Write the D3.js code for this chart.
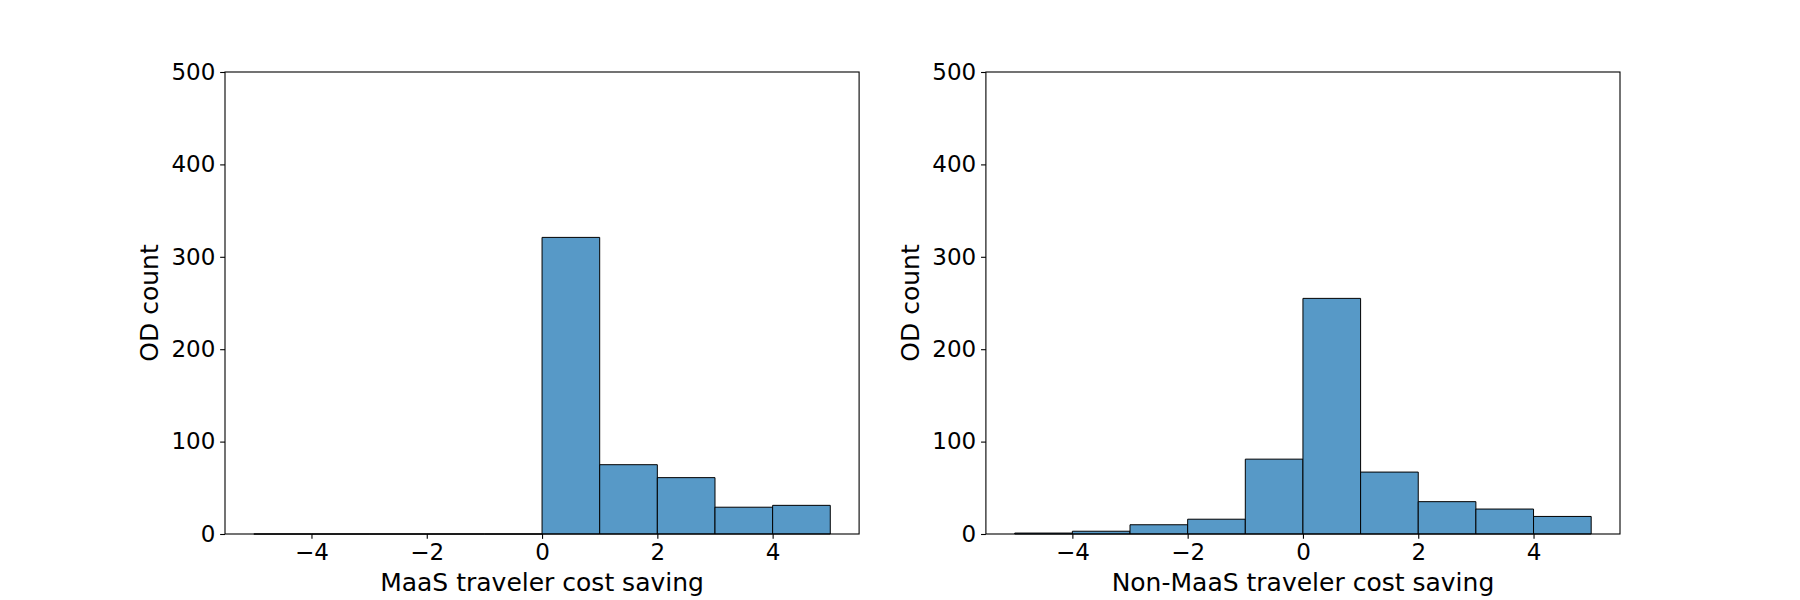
<!DOCTYPE html>
<html>
<head>
<meta charset="utf-8">
<script src="https://cdn.jsdelivr.net/npm/d3@7"></script>
<style>
  body { margin: 0; background: #fff; }
  text { font-family: "DejaVu Sans", sans-serif; fill: #000; }
</style>
</head>
<body>
<svg id="chart" width="1800" height="600"></svg>
<script>
// histogram bins (cost saving), width 1
var binEdges = [-5, -4, -3, -2, -1, 0, 1, 2, 3, 4, 5];
var maasCounts = [0, 0, 0, 0, 0, 321, 75, 61, 29, 31];
var nonMaasCounts = [1, 3, 10, 16, 81, 255, 67, 35, 27, 19];
var xTicks = [-4, -2, 0, 2, 4];
var yTicks = [0, 100, 200, 300, 400, 500];
var xLabels = ["MaaS traveler cost saving", "Non-MaaS traveler cost saving"];

var svg = d3.select("#chart"),
	plotTop = 72, plotBottom = 534,
	panelW = 634.1,
	lefts = [225, 985.9],
	tick = 4.86;

var y = d3.scaleLinear().domain([0, 500]).range([plotBottom, plotTop]);

var fmt = function(d) { return d < 0 ? "\u2212" + Math.abs(d) : String(d); };

var drawPanel = function(left, counts, label) {
	var x = d3.scaleLinear().domain([-5.5, 5.5]).range([left, left + panelW]);
	var g = svg.append("g");

	var bins = counts.map(function(c, i) {
		return { x0: binEdges[i], x1: binEdges[i + 1], count: c };
	});

	// paths so that empty bins still show their edge line
	g.selectAll("path.bar")
		.data(bins)
		.enter()
		.append("path")
		.attr("class", "bar")
		.attr("d", function(d) {
			return "M" + x(d.x0) + "," + y(0) + "V" + y(d.count) +
				"H" + x(d.x1) + "V" + y(0) + "Z";
		})
		.attr("fill", "#5799c7")
		.attr("stroke", "#000")
		.attr("stroke-width", 1);

	var xAxis = g.append("g")
		.attr("transform", "translate(0," + plotBottom + ")")
		.call(d3.axisBottom(x).tickValues(xTicks).tickFormat(fmt)
			.tickSize(tick).tickPadding(tick).tickSizeOuter(0));
	var yAxis = g.append("g")
		.attr("transform", "translate(" + left + ",0)")
		.call(d3.axisLeft(y).tickValues(yTicks).tickFormat(fmt)
			.tickSize(tick).tickPadding(tick).tickSizeOuter(0));

	[xAxis, yAxis].forEach(function(a) {
		a.select(".domain").remove();
		a.selectAll("line").attr("stroke", "#000").attr("stroke-width", 1.1);
		a.selectAll("text")
			.attr("font-size", 23)
			.attr("font-family", "DejaVu Sans, sans-serif")
			.attr("fill", "#000");
	});

	// frame
	g.append("rect")
		.attr("x", left)
		.attr("y", plotTop)
		.attr("width", panelW)
		.attr("height", plotBottom - plotTop)
		.attr("fill", "none")
		.attr("stroke", "#000")
		.attr("stroke-width", 1.1);

	g.append("text")
		.attr("x", left + panelW / 2)
		.attr("y", 591)
		.attr("text-anchor", "middle")
		.attr("font-size", 25)
		.text(label);

	g.append("text")
		.attr("transform", "translate(" + (left - 76) + "," + ((plotTop + plotBottom) / 2) + ") rotate(-90)")
		.attr("text-anchor", "middle")
		.attr("dy", "0.35em")
		.attr("font-size", 25)
		.text("OD count");
};

drawPanel(lefts[0], maasCounts, xLabels[0]);
drawPanel(lefts[1], nonMaasCounts, xLabels[1]);
</script>
</body>
</html>
